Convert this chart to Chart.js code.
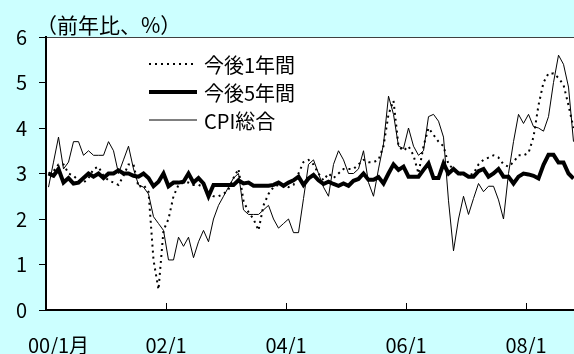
<!DOCTYPE html>
<html>
<head>
<meta charset="utf-8">
<script src="https://cdn.jsdelivr.net/npm/chart.js@4.4.1/dist/chart.umd.min.js"></script>
<style>
  html, body { margin: 0; padding: 0; background: #ccffff; }
  canvas { display: block; }
</style>
</head>
<body>
<canvas id="chart" width="574" height="354"></canvas>
<script>
// 2000/1 .. 2008/10, monthly
const months = [];
for (let y = 2000; y <= 2008; y++) {
  for (let m = 1; m <= 12; m++) {
    if (y === 2008 && m > 10) break;
    months.push(y + '/' + m);
  }
}

const tickLabels = ['00/1月', '02/1', '04/1', '06/1', '08/1'];
const tickPos = [2, 23.5, 47.5, 71.5, 95.5];      // label centres (month index)
const tickMarks = [23.5, 47.5, 71.5, 95.5];        // year boundaries

const seriesNames = ['今後1年間', '今後5年間', 'CPI総合'];

const exp1y = [
  3.0, 3.05, 3.2, 3.2, 3.0, 2.95, 2.85, 2.8, 2.9, 3.1,
  3.15, 2.95, 2.85, 2.8, 2.75, 2.95, 3.2, 3.2, 2.7, 2.75,
  2.6, 1.1, 0.45, 1.75, 2.0, 2.5, 2.75, 2.8, 2.8, 2.75,
  2.75, 2.7, 2.6, 2.5, 2.5, 2.55, 2.65, 2.9, 3.1, 2.4,
  2.15, 2.0, 1.75, 2.3, 2.55, 2.7, 2.75, 2.75, 2.7, 2.75,
  3.0, 3.25, 3.3, 3.2, 3.0, 2.85, 3.0, 2.9, 3.0, 3.1,
  3.1, 3.1, 3.2, 3.3, 3.25, 3.25, 3.3, 3.6, 4.3, 4.6,
  3.6, 3.5, 3.6, 3.4, 3.0, 3.6, 4.0, 3.85, 3.7, 3.6,
  3.2, 3.1, 3.0, 2.95, 2.95, 3.0, 3.2, 3.3, 3.35, 3.4,
  3.35, 3.2, 3.15, 3.25, 3.4, 3.4, 3.45, 3.8, 4.5, 5.0,
  5.2, 5.2, 5.1, 4.95, 4.5, 4.0
];

const exp5y = [
  3.0, 2.95, 3.1, 2.8, 2.9, 2.78, 2.8, 2.9, 3.0, 2.93,
  3.0, 2.9, 3.0, 3.0, 3.07, 3.0, 3.0, 2.95, 2.93, 3.0,
  2.9, 2.72, 2.82, 3.0, 2.72, 2.8, 2.8, 2.82, 3.0, 2.8,
  2.9, 2.78, 2.5, 2.75, 2.75, 2.75, 2.75, 2.75, 2.85, 2.78,
  2.8, 2.73, 2.73, 2.73, 2.73, 2.75, 2.8, 2.73, 2.8, 2.85,
  2.93, 2.75, 2.89, 2.97, 2.85, 2.77, 2.82, 2.77, 2.73, 2.78,
  2.73, 2.84, 2.88, 3.0, 2.86, 2.86, 2.92, 2.78, 3.0, 3.2,
  3.08, 3.15, 2.93, 2.93, 2.93, 3.08, 3.22, 2.9, 2.9, 3.22,
  3.0, 3.1, 3.0, 3.0, 2.93, 2.93, 3.05, 3.1, 2.93, 3.0,
  3.1, 2.93, 2.93, 2.78, 2.93, 3.0, 2.98, 2.95, 2.89, 3.19,
  3.41, 3.41, 3.24, 3.24, 3.0, 2.89
];

const cpi = [
  2.7, 3.25, 3.8, 3.1, 3.25, 3.7, 3.7, 3.4, 3.5, 3.4,
  3.4, 3.4, 3.7, 3.5, 3.0, 3.3, 3.6, 3.1, 2.75, 2.7,
  2.55, 2.05, 1.9, 1.75, 1.1, 1.1, 1.6, 1.4, 1.6, 1.15,
  1.5, 1.75, 1.5, 2.0, 2.3, 2.5, 2.7, 2.9, 3.0, 2.2,
  2.1, 2.1, 2.1, 2.2, 2.3, 2.0, 1.8, 1.9, 2.0, 1.7,
  1.7, 2.45, 3.2, 3.3, 3.0, 2.7, 2.5, 3.2, 3.5, 3.3,
  3.0, 3.0, 3.1, 3.5, 2.8, 2.5, 3.1, 3.65, 4.7, 4.3,
  3.6, 3.55, 4.0, 3.6, 3.4, 3.5, 4.25, 4.3, 4.15, 3.8,
  2.4, 1.3, 2.0, 2.5, 2.1, 2.45, 2.78, 2.6, 2.72, 2.72,
  2.42, 2.0, 3.0, 3.7, 4.3, 4.1, 4.3, 4.03, 4.0, 3.93,
  4.25, 5.0, 5.6, 5.4, 4.9, 3.7
];

const FONT = "'Noto Sans CJK JP', 'Noto Sans', sans-serif";
const toXY = arr => arr.map((v, i) => ({ x: i, y: v }));

// background, plot area, top frame line, inward x ticks, unit label, legend
const decor = {
  id: 'decor',
  beforeDraw(chart) {
    const { ctx, chartArea: a, width, height } = chart;
    ctx.save();
    ctx.fillStyle = '#ccffff';
    ctx.fillRect(0, 0, width, height);
    ctx.fillStyle = '#ffffff';
    ctx.fillRect(a.left, a.top, a.right - a.left, a.bottom - a.top);
    ctx.strokeStyle = '#404040';
    ctx.lineWidth = 1;
    ctx.beginPath();
    ctx.moveTo(a.left, a.top + 0.5);
    ctx.lineTo(a.right, a.top + 0.5);
    ctx.stroke();
    ctx.restore();
  },
  afterDraw(chart) {
    const { ctx, chartArea: a } = chart;
    const xs = chart.scales.x;
    ctx.save();
    ctx.strokeStyle = '#000';
    ctx.lineWidth = 1;
    tickMarks.forEach(v => {
      const px = Math.round(xs.getPixelForValue(v)) + 0.5;
      ctx.beginPath();
      ctx.moveTo(px, a.bottom);
      ctx.lineTo(px, a.bottom - 7);
      ctx.stroke();
    });

    ctx.fillStyle = '#000';
    ctx.font = '21px ' + FONT;
    ctx.textBaseline = 'middle';
    ctx.textAlign = 'left';
    ctx.fillText('（前年比、%）', 36, 25);

    // legend
    ctx.font = '20px ' + FONT;
    const rows = [64, 92, 120];
    chart.data.datasets.forEach((ds, i) => {
      const y = rows[i];
      ctx.save();
      ctx.strokeStyle = ds.borderColor;
      ctx.lineWidth = ds.borderWidth;
      ctx.setLineDash(ds.borderDash || []);
      ctx.beginPath();
      ctx.moveTo(149, y);
      ctx.lineTo(197, y);
      ctx.stroke();
      ctx.restore();
      ctx.fillText(ds.label, 204, y + 1);
    });
    ctx.restore();
  }
};

new Chart(document.getElementById('chart'), {
  type: 'line',
  data: {
    datasets: [
      {
        label: seriesNames[0],
        data: toXY(exp1y),
        borderColor: '#000',
        borderWidth: 2,
        borderDash: [2, 4],
        pointRadius: 0,
        tension: 0,
        order: 2
      },
      {
        label: seriesNames[1],
        data: toXY(exp5y),
        borderColor: '#000',
        borderWidth: 4,
        pointRadius: 0,
        tension: 0,
        order: 0
      },
      {
        label: seriesNames[2],
        data: toXY(cpi),
        borderColor: '#000',
        borderWidth: 1,
        pointRadius: 0,
        tension: 0,
        order: 1
      }
    ]
  },
  options: {
    responsive: false,
    animation: false,
    devicePixelRatio: 1,
    layout: { padding: { top: 37, right: 0, bottom: 0, left: 0 } },
    plugins: {
      legend: { display: false },
      tooltip: { enabled: false }
    },
    scales: {
      x: {
        type: 'linear',
        min: -0.5,
        max: 105.1,
        afterFit: s => { s.height = 44; },
        afterBuildTicks: s => { s.ticks = tickPos.map(v => ({ value: v })); },
        grid: { display: false, drawTicks: false },
        border: { display: true, color: '#000', width: 2 },
        ticks: {
          autoSkip: false,
          maxRotation: 0,
          padding: 23,
          color: '#000',
          font: { family: FONT, size: 20 },
          callback: v => tickLabels[tickPos.indexOf(v)]
        }
      },
      y: {
        min: 0,
        max: 6,
        afterFit: s => { s.width = 46; },
        grid: { drawOnChartArea: false, drawTicks: true, tickLength: 7, color: '#000' },
        border: { display: true, color: '#000', width: 2 },
        ticks: {
          stepSize: 1,
          padding: 12,
          color: '#000',
          font: { family: FONT, size: 20 }
        }
      }
    }
  },
  plugins: [decor]
});
</script>
</body>
</html>
